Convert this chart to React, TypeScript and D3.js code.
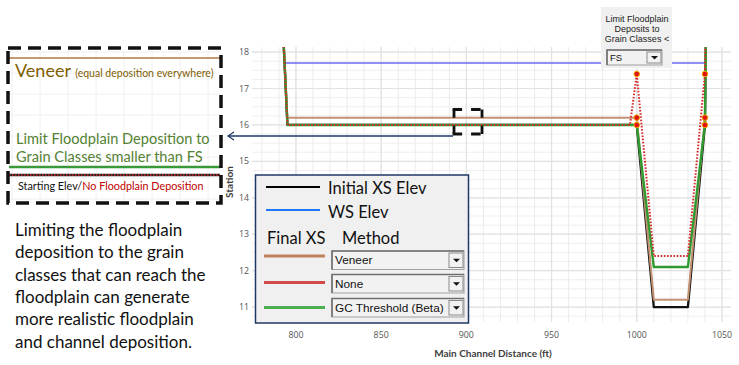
import React from "react";
import * as d3 from "d3";

// ---------- data ----------
const xTicks = [800, 850, 900, 950, 1000, 1050];
const yTicks = [11, 12, 13, 14, 15, 16, 17, 18];

const initialStation = [791, 795, 1000, 1010, 1030, 1040, 1041];
const initialElev = [20, 16, 16, 11, 11, 16, 20];

const wsStation = [793.5, 1041];
const wsElev = [17.7, 17.7];

const veneerStation = [791, 795, 996, 1000, 1010, 1030, 1040, 1041];
const veneerElev = [20, 16.2, 16.2, 16.2, 11.2, 11.2, 16.2, 20];

const noneStation = [791, 795, 996, 1000, 1010, 1030, 1040, 1041];
const noneElev = [20, 16, 16, 17.4, 12.4, 12.4, 17.4, 20];

const gcStation = [791, 795, 1000, 1010, 1030, 1040, 1041];
const gcElev = [20, 16, 16, 12.1, 12.1, 16, 20];

const markerStation = [1000, 1000, 1000, 1040, 1040, 1040];
const markerElev = [17.4, 16.2, 16, 17.4, 16.2, 16];

const legendItems = ["Initial XS Elev", "WS Elev"];
const methodOptions = ["Veneer", "None", "GC Threshold (Beta)"];
const paragraph = [
  "Limiting the floodplain",
  "deposition to the grain",
  "classes that can reach the",
  "floodplain can generate",
  "more realistic floodplain",
  "and channel deposition.",
];

// ---------- layout ----------
const W = 739;
const H = 365;
const PL = 252, PR = 731, PT = 47, PB = 322;

const x = d3.scaleLinear().domain([774.2, 1055.3]).range([PL, PR]);
const y = d3.scaleLinear().domain([10.59, 18.14]).range([PB, PT]);

const pts = (s: number[], e: number[]) => s.map((v, i) => [v, e[i]] as [number, number]);
const line = d3.line<[number, number]>().x((d) => x(d[0])).y((d) => y(d[1]));

function Dropdown({ x0, y0, w, h, label, fs }: { x0: number; y0: number; w: number; h: number; label: string; fs: number }) {
  const bw = 14;
  return (
    <g>
      <rect x={x0} y={y0} width={w} height={h} fill="#f2f2f2" stroke="#a0a0a0" strokeWidth={1} />
      <path d={`M${x0},${y0 + h} V${y0} H${x0 + w}`} fill="none" stroke="#6e6e6e" strokeWidth={1.6} />
      <text x={x0 + 3} y={y0 + h / 2 + fs * 0.36} fontFamily="Liberation Sans, Arial, sans-serif" fontSize={fs} fill="#111">
        {label}
      </text>
      <rect x={x0 + w - bw - 1} y={y0 + 2} width={bw} height={h - 4} fill="#f2f2f2" stroke="#8a8a8a" strokeWidth={1} />
      <path d={`M${x0 + w - bw / 2 - 4},${y0 + h / 2 - 1.5} h7 l-3.5,3.5 z`} fill="#111" />
    </g>
  );
}

function DashedBox({ x0, y0, w, h }: { x0: number; y0: number; w: number; h: number }) {
  const hd = `${w * 0.34} ${w * 0.32}`;
  const vd = `${h * 0.34} ${h * 0.32}`;
  return (
    <g stroke="#111" strokeWidth={2.8} fill="none">
      <line x1={x0 - 1.4} x2={x0 + w + 1.4} y1={y0} y2={y0} strokeDasharray={hd} />
      <line x1={x0 - 1.4} x2={x0 + w + 1.4} y1={y0 + h} y2={y0 + h} strokeDasharray={hd} />
      <line x1={x0} x2={x0} y1={y0} y2={y0 + h} strokeDasharray={vd} />
      <line x1={x0 + w} x2={x0 + w} y1={y0} y2={y0 + h} strokeDasharray={vd} />
    </g>
  );
}

export default function App() {
  const xMinor = d3.range(780, 1056, 10);
  const yMinor = d3.range(10.75, 18.15, 0.25);
  const boxGridX = d3.range(12, 222, 28);
  const boxGridY = d3.range(52, 203, 21);

  return (
    <svg
      width={W}
      height={H}
      style={{ position: "absolute", left: 0, top: 0, background: "#fff" }}
      fontFamily="Lato, sans-serif"
    >
      <defs>
        <clipPath id="plot">
          <rect x={PL} y={PT} width={PR - PL} height={PB - PT} />
        </clipPath>
      </defs>

      {/* grid */}
      <g>
        {yMinor.map((v) => (
          <line key={"ym" + v} x1={PL} x2={PR} y1={y(v)} y2={y(v)} stroke="#efefef" strokeWidth={1} />
        ))}
        {xMinor.map((v) => (
          <line key={"xm" + v} x1={x(v)} x2={x(v)} y1={PT} y2={PB} stroke="#ececec" strokeWidth={1} />
        ))}
        {yTicks.map((v) => (
          <line key={"yM" + v} x1={PL} x2={PR} y1={y(v)} y2={y(v)} stroke="#e2e2e2" strokeWidth={1.2} />
        ))}
        {xTicks.map((v) => (
          <line key={"xM" + v} x1={x(v)} x2={x(v)} y1={PT} y2={PB} stroke="#e2e2e2" strokeWidth={1.2} />
        ))}
      </g>

      {/* tick labels */}
      {yTicks.map((v) => (
        <text key={"yt" + v} x={249} y={y(v) + 3} textAnchor="end" fontFamily="Open Sans, sans-serif" fontSize={8.8} fill="#555">
          {v}
        </text>
      ))}
      {xTicks.map((v) => (
        <text key={"xt" + v} x={x(v)} y={338} textAnchor="middle" fontFamily="Open Sans, sans-serif" fontSize={8.8} fill="#555">
          {v}
        </text>
      ))}
      <text x={493} y={357} textAnchor="middle" fontWeight="bold" fontSize={10} fill="#404040">
        Main Channel Distance (ft)
      </text>
      <text transform="translate(233,182) rotate(-90)" textAnchor="middle" fontWeight="bold" fontSize={10} fill="#404040">
        Station
      </text>

      {/* series */}
      <g clipPath="url(#plot)" fill="none" strokeLinejoin="round">
        <path d={line(pts(wsStation, wsElev)) || ""} stroke="#6a6af0" strokeWidth={1.4} />
        <path d={line(pts(initialStation, initialElev)) || ""} stroke="#111" strokeWidth={2.3} />
        <path d={line(pts(veneerStation, veneerElev)) || ""} stroke="#c39273" strokeWidth={2} />
        <path d={line(pts(gcStation, gcElev)) || ""} stroke="#2f9a2f" strokeWidth={2.4} />
        <path d={line(pts(noneStation, noneElev)) || ""} stroke="#d42a2a" strokeWidth={2} strokeDasharray="1.6 1.6" />
        {markerStation.map((s, i) => (
          <circle key={"m" + i} cx={x(s)} cy={y(markerElev[i])} r={2.8} fill="#e01010" stroke="#f5a800" strokeWidth={1} />
        ))}
      </g>

      {/* top-right control panel */}
      <g>
        <rect x={601} y={7} width={71} height={61} fill="#f0f0f0" />
        {["Limit Floodplain", "Deposits to", "Grain Classes <"].map((t, i) => (
          <text key={t} x={637} y={21.5 + i * 10} textAnchor="middle" fontFamily="Liberation Sans, Arial, sans-serif" fontSize={9} fill="#222">
            {t}
          </text>
        ))}
        <Dropdown x0={607} y0={50} w={55} h={15} label="FS" fs={9.5} />
      </g>

      {/* left annotation box */}
      <g>
        {boxGridX.map((v) => (
          <line key={"bx" + v} x1={v} x2={v} y1={50} y2={202} stroke="#f0f0f0" strokeWidth={1} />
        ))}
        {boxGridY.map((v) => (
          <line key={"by" + v} x1={9} x2={220} y1={v} y2={v} stroke="#f0f0f0" strokeWidth={1} />
        ))}
        <line x1={9} x2={220} y1={58} y2={58} stroke="#c79a76" strokeWidth={2} />
        <line x1={9} x2={220} y1={167} y2={167} stroke="#3a9a3a" strokeWidth={2.6} />
        <line x1={9} x2={220} y1={175} y2={175} stroke="#222" strokeWidth={2.6} />
        <line x1={9} x2={220} y1={175} y2={175} stroke="#d42a2a" strokeWidth={1.6} strokeDasharray="1.5 1.5" />
        <text x={15} y={77} fill="#7f6000">
          <tspan fontSize={18}>Veneer </tspan>
          <tspan fontSize={10.5}>(equal deposition everywhere)</tspan>
        </text>
        <text x={16} y={144} fontSize={14.6} fill="#548235">
          Limit Floodplain Deposition to
        </text>
        <text x={16} y={162} fontSize={14.6} fill="#548235">
          Grain Classes smaller than FS
        </text>
        <text x={18} y={189.5} fontSize={10.8}>
          <tspan fill="#111">Starting Elev/</tspan>
          <tspan fill="#c00000">No Floodplain Deposition</tspan>
        </text>
        <rect x={8} y={48} width={213} height={155} fill="none" stroke="#111" strokeWidth={3.5} strokeDasharray="13 7" />
      </g>

      {/* small dashed box + arrow */}
      <DashedBox x0={454} y0={109.5} w={28} h={24.5} />
      <line x1={453} x2={228} y1={136} y2={136} stroke="#1f3864" strokeWidth={1.3} />
      <polyline points="234,132 228,136 234,140" fill="none" stroke="#1f3864" strokeWidth={1.2} />

      {/* paragraph */}
      {paragraph.map((t, i) => (
        <text key={t} x={15} y={236 + i * 22.3} fontSize={17} fill="#111">
          {t}
        </text>
      ))}

      {/* legend */}
      <g>
        <rect x={255.5} y={175} width={213} height={148} fill="#f0f0f0" stroke="#1f3864" strokeWidth={1.5} />
        <line x1={266} x2={320} y1={187} y2={187} stroke="#000" strokeWidth={2.2} />
        <line x1={266} x2={320} y1={210} y2={210} stroke="#1e78ff" strokeWidth={2.2} />
        {legendItems.map((t, i) => (
          <text key={t} x={328} y={193.5 + i * 24} fontSize={16.5} fill="#111">
            {t}
          </text>
        ))}
        <text x={267} y={244} fontSize={16.5} fill="#111">Final XS</text>
        <text x={342} y={244} fontSize={16.5} fill="#111">Method</text>
        {methodOptions.map((t, i) => {
          const colors = ["#c0825a", "#d04a4a", "#4caf50"];
          const ly = [256, 282.5, 307.5][i];
          const dy = [251, 274.5, 298.5][i];
          return (
            <g key={t}>
              <line x1={264} x2={325} y1={ly} y2={ly} stroke={colors[i]} strokeWidth={3} />
              <Dropdown x0={332} y0={dy} w={132} h={18.5} label={t} fs={11.8} />
            </g>
          );
        })}
      </g>
    </svg>
  );
}
